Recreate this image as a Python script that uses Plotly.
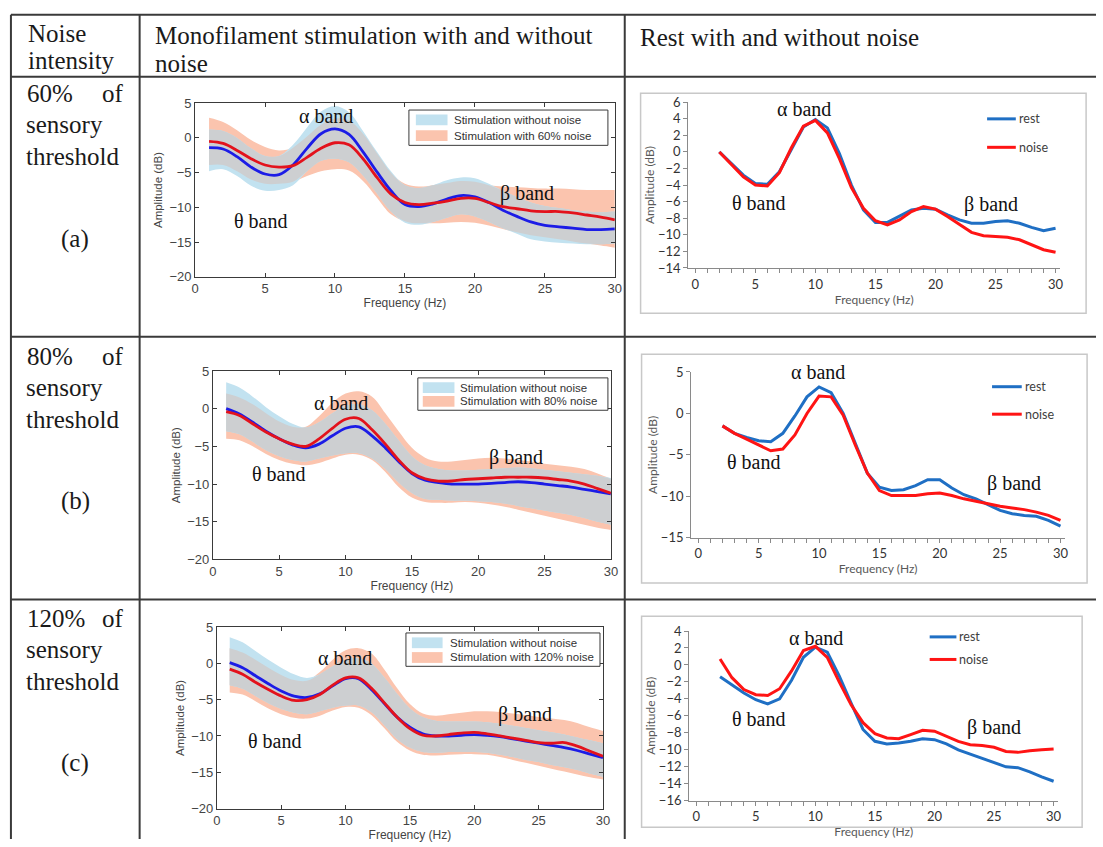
import plotly.graph_objects as go

W, H = 1103, 847

# ---------------- data ----------------
freq_stim = list(range(1, 31))
freq_rest = list(range(2, 31))

# (a) 60% of sensory threshold – monofilament stimulation
stim_a_without_mean = [-1.4, -1.6, -2.7, -4.2, -5.2, -5.3, -3.9, -1.5, 0.6, 1.3, 0.5, -2.0, -4.9, -7.6, -9.6,
                       -9.9, -9.5, -8.8, -8.3, -8.5, -9.3, -10.4, -11.3, -12.1, -12.6, -12.8, -13.0, -13.2, -13.2, -13.1]
stim_a_without_upper = [1.2, 1.0, 0.0, -1.5, -2.6, -2.6, -1.0, 1.5, 3.8, 4.6, 3.7, 1.0, -2.0, -4.8, -6.8,
                        -7.2, -6.8, -6.1, -5.7, -5.8, -6.6, -7.6, -8.5, -9.3, -9.8, -10.1, -10.4, -10.6, -10.7, -10.6]
stim_a_without_lower = [-4.8, -4.5, -5.5, -6.9, -7.6, -7.5, -6.8, -4.8, -3.3, -3.0, -3.5, -5.4, -8.0, -10.6, -12.2,
                        -12.5, -12.1, -11.5, -11.0, -11.3, -12.1, -13.0, -13.8, -14.6, -14.9, -15.1, -15.2, -15.3, -15.3, -15.2]
stim_a_noise_mean = [-0.5, -0.8, -1.8, -3.0, -3.9, -4.2, -4.0, -2.8, -1.5, -0.7, -1.0, -3.0, -5.7, -8.1, -9.3,
                     -9.6, -9.4, -9.1, -8.7, -8.7, -9.3, -9.9, -10.2, -10.5, -10.6, -10.6, -10.8, -11.1, -11.4, -11.8]
stim_a_noise_upper = [2.9, 2.3, 1.1, -0.3, -1.3, -1.8, -1.4, 0.2, 1.9, 2.8, 2.5, 0.6, -2.2, -5.0, -6.6,
                      -7.0, -6.8, -6.5, -6.2, -6.3, -6.8, -7.0, -7.1, -7.2, -7.3, -7.3, -7.4, -7.5, -7.5, -7.5]
stim_a_noise_lower = [-3.9, -3.9, -4.8, -6.0, -6.6, -6.6, -6.3, -5.5, -4.8, -4.5, -4.7, -6.2, -8.6, -11.0, -12.0,
                      -12.3, -12.3, -12.2, -12.1, -12.2, -12.6, -13.1, -13.6, -14.0, -14.3, -14.6, -14.9, -15.2, -15.5, -15.8]

# (b) 80% of sensory threshold
stim_b_without_mean = [0.0, -0.7, -1.8, -3.0, -4.0, -4.8, -5.2, -4.7, -3.6, -2.6, -2.4, -3.6, -5.2, -7.0, -8.6,
                       -9.5, -9.8, -10.0, -10.0, -10.0, -9.9, -9.8, -9.7, -9.8, -10.0, -10.2, -10.4, -10.7, -11.0, -11.3]
stim_b_without_upper = [3.5, 2.8, 1.6, 0.2, -1.0, -2.0, -2.5, -1.8, -0.6, 0.4, 0.6, -0.2, -2.0, -4.2, -6.3,
                        -7.5, -8.0, -8.2, -8.2, -8.1, -8.0, -7.9, -7.8, -7.9, -8.1, -8.3, -8.5, -8.7, -8.9, -9.2]
stim_b_without_lower = [-3.0, -3.4, -4.4, -5.5, -6.3, -6.8, -7.0, -6.6, -6.2, -5.9, -5.9, -6.6, -8.0, -9.8, -11.2,
                        -12.0, -12.1, -12.2, -12.2, -12.3, -12.4, -12.6, -12.9, -13.2, -13.5, -13.8, -14.1, -14.5, -15.0, -15.4]
stim_b_noise_mean = [-0.4, -0.9, -2.0, -3.1, -4.0, -4.7, -5.0, -4.0, -2.6, -1.4, -1.3, -2.8, -4.7, -6.8, -8.5,
                     -9.3, -9.6, -9.6, -9.4, -9.3, -9.2, -9.1, -9.1, -9.1, -9.2, -9.4, -9.6, -10.0, -10.6, -11.2]
stim_b_noise_upper = [2.0, 1.5, 0.6, -0.6, -1.7, -2.4, -2.4, -1.0, 0.8, 2.0, 2.3, 1.6, -0.6, -3.0, -5.2,
                      -6.5, -7.0, -7.0, -6.8, -6.6, -6.5, -6.6, -6.8, -7.0, -7.3, -7.5, -7.7, -8.0, -8.6, -9.3]
stim_b_noise_lower = [-4.0, -4.2, -5.0, -6.0, -6.8, -7.3, -7.5, -7.2, -6.6, -6.1, -6.1, -6.8, -8.4, -10.4, -11.8,
                      -12.4, -12.5, -12.5, -12.4, -12.5, -12.7, -13.0, -13.4, -13.8, -14.2, -14.6, -15.0, -15.4, -15.8, -16.1]

# (c) 120% of sensory threshold
stim_c_without_mean = [0.1, -0.6, -1.7, -2.8, -3.8, -4.5, -4.7, -4.2, -3.1, -2.1, -2.1, -3.6, -5.5, -7.4, -8.8,
                       -9.7, -10.0, -10.0, -9.9, -9.8, -9.9, -10.1, -10.4, -10.7, -11.0, -11.3, -11.6, -12.0, -12.5, -13.0]
stim_c_without_upper = [3.6, 2.9, 1.7, 0.5, -0.6, -1.5, -2.0, -1.5, -0.4, 0.5, 0.7, 0.0, -1.9, -4.2, -6.2,
                        -7.4, -7.9, -8.0, -8.0, -8.0, -8.1, -8.3, -8.6, -8.9, -9.2, -9.5, -9.8, -10.2, -10.6, -11.0]
stim_c_without_lower = [-3.0, -3.5, -4.5, -5.5, -6.3, -6.8, -7.0, -6.6, -6.1, -5.8, -5.8, -6.7, -8.5, -10.4, -11.6,
                        -12.2, -12.3, -12.2, -12.2, -12.2, -12.3, -12.6, -12.9, -13.3, -13.6, -14.0, -14.3, -14.7, -15.2, -15.6]
stim_c_noise_mean = [-0.8, -1.5, -2.6, -3.6, -4.5, -5.1, -5.0, -4.3, -3.0, -2.0, -2.0, -3.4, -5.4, -7.4, -9.0,
                     -9.9, -10.0, -9.8, -9.6, -9.5, -9.7, -10.0, -10.3, -10.6, -10.9, -11.0, -10.9, -11.4, -12.1, -12.8]
stim_c_noise_upper = [2.1, 1.5, 0.5, -0.6, -1.6, -2.3, -2.4, -1.2, 0.5, 1.8, 2.1, 1.4, -0.8, -3.4, -5.6,
                      -6.9, -7.2, -7.0, -6.8, -6.6, -6.6, -6.7, -6.9, -7.1, -7.4, -7.6, -7.8, -8.2, -8.8, -9.3]
stim_c_noise_lower = [-4.0, -4.3, -5.2, -6.2, -7.0, -7.5, -7.6, -7.2, -6.5, -6.0, -6.1, -7.1, -8.9, -10.8, -12.0,
                      -12.6, -12.7, -12.6, -12.5, -12.5, -12.6, -12.9, -13.3, -13.7, -14.1, -14.5, -14.9, -15.3, -15.7, -16.0]

# Rest with and without noise
rest_a_rest = [0.0, -1.4, -2.8, -3.8, -3.9, -2.4, 0.3, 3.0, 3.9, 2.9, -0.2, -4.0, -7.0, -8.5, -8.5,
               -7.7, -7.0, -6.8, -6.9, -7.6, -8.2, -8.6, -8.6, -8.4, -8.3, -8.6, -9.1, -9.5, -9.2]
rest_a_noise = [0.0, -1.5, -3.0, -4.0, -4.1, -2.5, 0.5, 3.1, 3.8, 2.3, -0.8, -4.3, -6.8, -8.3, -8.8,
                -8.2, -7.2, -6.6, -6.9, -7.8, -8.8, -9.7, -10.1, -10.2, -10.3, -10.6, -11.2, -11.8, -12.1]
rest_b_rest = [-1.5, -2.4, -2.9, -3.3, -3.4, -2.4, -0.3, 2.0, 3.2, 2.5, 0.0, -3.7, -7.2, -8.9, -9.3,
               -9.2, -8.7, -8.0, -8.0, -9.0, -9.8, -10.3, -11.0, -11.7, -12.1, -12.3, -12.4, -12.9, -13.6]
rest_b_noise = [-1.5, -2.4, -3.1, -3.8, -4.5, -4.3, -2.6, 0.0, 2.1, 2.0, -0.2, -3.8, -7.2, -9.3, -9.9,
                -9.9, -9.9, -9.7, -9.6, -9.9, -10.3, -10.6, -10.9, -11.2, -11.4, -11.6, -11.9, -12.3, -12.9]
rest_c_rest = [-1.4, -2.4, -3.3, -4.1, -4.6, -4.0, -1.8, 0.9, 2.1, 1.5, -1.3, -4.5, -7.6, -9.0, -9.3,
               -9.2, -9.0, -8.7, -8.8, -9.3, -10.0, -10.5, -11.0, -11.5, -12.0, -12.1, -12.6, -13.2, -13.7]
rest_c_noise = [0.7, -1.5, -2.9, -3.5, -3.6, -2.8, -0.7, 1.7, 2.2, 0.9, -2.0, -4.7, -6.8, -8.1, -8.6,
                -8.7, -8.2, -7.7, -7.8, -8.4, -9.0, -9.4, -9.5, -9.7, -10.2, -10.3, -10.1, -10.0, -9.9]

stim_legend_labels = [["Stimulation without noise", "Stimulation with 60% noise"],
                      ["Stimulation without noise", "Stimulation with 80% noise"],
                      ["Stimulation without noise", "Stimulation with 120% noise"]]
rest_legend_labels = ["rest", "noise"]
row_labels = [("60%", "(a)"), ("80%", "(b)"), ("120%", "(c)")]
band_labels = ["\u03b1 band", "\u03b8 band", "\u03b2 band"]

# ---------------- style ----------------
SALMON = "#fbc4ae"
LIGHTBLUE = "#c2e2f0"
GRAY = "#cdcfd1"
MEAN_BLUE = "#1c1ce6"
MEAN_RED = "#e3121c"
REST_BLUE = "#1f6fc4"
REST_RED = "#ff1414"
SERIF = "'Liberation Serif', 'Times New Roman', 'DejaVu Serif', serif"
SANS = "'Liberation Sans', Arial, sans-serif"
XLFONT = "Lato, 'Liberation Sans', sans-serif"


def px(x):
    return x / W


def py(y):
    return 1 - y / H


fig = go.Figure()
shapes = []
annotations = []
layout_axes = {}


def text(x, y, s, size=25, family=SERIF, color="#1a1a1a", xanchor="left", yanchor="middle"):
    annotations.append(dict(x=px(x), y=py(y), xref="paper", yref="paper", text=s, showarrow=False,
                            xanchor=xanchor, yanchor=yanchor,
                            font=dict(family=family, size=size, color=color)))


def add_axes(i, xdom, ydom, xrange, yrange, xdtick, ydtick, style):
    xd = [px(xdom[0]), px(xdom[1])]
    yd = [py(ydom[1]), py(ydom[0])]
    if style == "matlab":
        common = dict(showline=True, linecolor="#3a3a3a", linewidth=1, mirror="ticks", ticks="inside",
                      ticklen=4, tickcolor="#3a3a3a", showgrid=False, zeroline=False,
                      tickfont=dict(family=SANS, size=13, color="#444444"))
        xa = dict(domain=xd, range=xrange, dtick=xdtick, tick0=0, anchor=f"y{i}",
                  title=dict(text="Frequency (Hz)", font=dict(family=SANS, size=12, color="#444444"), standoff=2),
                  **common)
        ya = dict(domain=yd, range=yrange, dtick=ydtick, tick0=0, anchor=f"x{i}",
                  title=dict(text="Amplitude (dB)", font=dict(family=SANS, size=11.5, color="#444444"), standoff=4),
                  **common)
    else:
        common = dict(showline=True, linecolor="#8a8a8a", linewidth=1, ticks="outside", ticklen=4,
                      tickcolor="#8a8a8a", showgrid=False, zeroline=False,
                      tickfont=dict(family=XLFONT, size=13, color="#333333"))
        xa = dict(domain=xd, range=xrange, dtick=xdtick, tick0=0, anchor=f"y{i}",
                  minor=dict(dtick=1, ticks="outside", ticklen=4, tickcolor="#8a8a8a"),
                  title=dict(text="Frequency (Hz)", font=dict(family=XLFONT, size=12, color="#595959"), standoff=4),
                  **common)
        ya = dict(domain=yd, range=yrange, dtick=ydtick, tick0=0, anchor=f"x{i}",
                  title=dict(text="Amplitude (dB)", font=dict(family=XLFONT, size=12, color="#595959"), standoff=0),
                  **common)
    key = "" if i == 1 else str(i)
    layout_axes["xaxis" + key] = xa
    layout_axes["yaxis" + key] = ya


def band(i, lo, up, color):
    fig.add_trace(go.Scatter(x=freq_stim, y=lo, mode="lines", line=dict(width=0, shape="spline"),
                             xaxis=f"x{i}", yaxis=f"y{i}", showlegend=False, hoverinfo="skip"))
    fig.add_trace(go.Scatter(x=freq_stim, y=up, mode="lines", line=dict(width=0, shape="spline"),
                             fill="tonexty", fillcolor=color, xaxis=f"x{i}", yaxis=f"y{i}",
                             showlegend=False, hoverinfo="skip"))


def stim_panel(i, wm, wu, wl, nm, nu, nl):
    ou = [min(a, b) for a, b in zip(wu, nu)]
    ol = [max(a, b) for a, b in zip(wl, nl)]
    band(i, nl, nu, SALMON)
    band(i, wl, wu, LIGHTBLUE)
    band(i, ol, ou, GRAY)
    fig.add_trace(go.Scatter(x=freq_stim, y=wm, mode="lines", line=dict(width=2.8, color=MEAN_BLUE, shape="spline"),
                             xaxis=f"x{i}", yaxis=f"y{i}", showlegend=False))
    fig.add_trace(go.Scatter(x=freq_stim, y=nm, mode="lines", line=dict(width=2.8, color=MEAN_RED, shape="spline"),
                             xaxis=f"x{i}", yaxis=f"y{i}", showlegend=False))


def rest_panel(i, r, n):
    fig.add_trace(go.Scatter(x=freq_rest, y=r, mode="lines", line=dict(width=3, color=REST_BLUE),
                             xaxis=f"x{i}", yaxis=f"y{i}", showlegend=False))
    fig.add_trace(go.Scatter(x=freq_rest, y=n, mode="lines", line=dict(width=3, color=REST_RED),
                             xaxis=f"x{i}", yaxis=f"y{i}", showlegend=False))


# ---------------- panels ----------------
stim_data = [
    (stim_a_without_mean, stim_a_without_upper, stim_a_without_lower, stim_a_noise_mean, stim_a_noise_upper, stim_a_noise_lower),
    (stim_b_without_mean, stim_b_without_upper, stim_b_without_lower, stim_b_noise_mean, stim_b_noise_upper, stim_b_noise_lower),
    (stim_c_without_mean, stim_c_without_upper, stim_c_without_lower, stim_c_noise_mean, stim_c_noise_upper, stim_c_noise_lower),
]
stim_boxes = [((193, 617), (97, 274)), ((211, 613), (370, 562)), ((215, 605), (631, 816))]
for k, (d, (xb, yb)) in enumerate(zip(stim_data, stim_boxes)):
    i = k + 1
    add_axes(i, xb, yb, [0, 30], [-20, 5], 5, 5, "matlab")
    stim_panel(i, *d)

rest_data = [(rest_a_rest, rest_a_noise, [-14, 6], 2),
             (rest_b_rest, rest_b_noise, [-15, 5], 5),
             (rest_c_rest, rest_c_noise, [-16, 4], 2)]
rest_boxes = [((691, 1067), (96, 265)), ((694, 1072), (371, 540)), ((692, 1065), (635, 808))]
for k, ((r, n, yr, yd), (xb, yb)) in enumerate(zip(rest_data, rest_boxes)):
    i = k + 4
    add_axes(i, xb, yb, [-0.6, 30.4], yr, 5, yd, "excel")
    rest_panel(i, r, n)

# ---------------- table ----------------
LINE = dict(color="#3a3a3a", width=2)
for yy in [7, 70, 335, 603]:
    shapes.append(dict(type="line", xref="paper", yref="paper", x0=px(7), x1=px(1103), y0=py(yy), y1=py(yy), line=LINE))
for xx in [7, 137, 627]:
    shapes.append(dict(type="line", xref="paper", yref="paper", x0=px(xx), x1=px(xx), y0=py(7), y1=py(847), line=LINE))

text(22, 26, "Noise")
text(22, 54, "intensity")
text(151, 28, "Monofilament stimulation with and without")
text(151, 57, "noise")
text(640, 30, "Rest with and without noise")

row_tops = [87, 355, 622]
for (pct, tag), top in zip(row_labels, row_tops):
    text(21, top, pct)
    text(123, top, "of", xanchor="right")
    text(20, top + 32, "sensory")
    text(20, top + 64, "threshold")
    text(72, top + 148, tag, xanchor="center")

# ---------------- stim legends ----------------
stim_leg = [dict(box=(409, 610, 104, 140), patch=(416, 448), rows=(114, 130), tx=453),
            dict(box=(418, 610, 377, 410), patch=(423, 455), rows=(387, 401), tx=459),
            dict(box=(406, 602, 637, 671), patch=(412, 443), rows=(647, 662), tx=448)]
for lg, labels in zip(stim_leg, stim_legend_labels):
    x0, x1, y0, y1 = lg["box"]
    shapes.append(dict(type="rect", xref="paper", yref="paper", x0=px(x0), x1=px(x1), y0=py(y0), y1=py(y1),
                       line=dict(color="#3a3a3a", width=1), fillcolor="white"))
    for col, yc, lab in zip([LIGHTBLUE, SALMON], lg["rows"], labels):
        shapes.append(dict(type="rect", xref="paper", yref="paper", x0=px(lg["patch"][0]), x1=px(lg["patch"][1]),
                           y0=py(yc + 5.5), y1=py(yc - 5.5), line=dict(width=0), fillcolor=col))
        text(lg["tx"], yc, lab, size=11.5, family=SANS, color="#333333")

# ---------------- rest chart frames and legends ----------------
frames = [(643, 1093, 87, 311), (644, 1094, 353, 586), (644, 1089, 620, 835)]
for x0, x1, y0, y1 in frames:
    shapes.append(dict(type="rect", xref="paper", yref="paper", x0=px(x0), x1=px(x1), y0=py(y0), y1=py(y1),
                       line=dict(color="#c8c8c8", width=1.5), layer="below"))
rest_leg = [dict(x=(993, 1022), rows=(113, 142)),
            dict(x=(998, 1028), rows=(386, 414)),
            dict(x=(935, 962), rows=(641, 664))]
for lg in rest_leg:
    for col, yc, lab in zip([REST_BLUE, REST_RED], lg["rows"], rest_legend_labels):
        shapes.append(dict(type="line", xref="paper", yref="paper", x0=px(lg["x"][0]), x1=px(lg["x"][1]),
                           y0=py(yc), y1=py(yc), line=dict(color=col, width=3)))
        text(lg["x"][1] + 1, yc, lab, size=12.5, family=XLFONT, color="#404040")

# ---------------- band labels ----------------
band_pos = [
    [(325, 110), (259, 217), (528, 189)],
    [(340, 403), (277, 475), (517, 458)],
    [(344, 663), (273, 747), (526, 720)],
    [(808, 103), (762, 199), (997, 200)],
    [(822, 371), (757, 463), (1020, 485)],
    [(820, 642), (762, 725), (1000, 733)],
]
for pos in band_pos:
    for lab, (x, y) in zip(band_labels, pos):
        text(x, y, lab, size=20, family=SERIF, color="#111111", xanchor="center")

fig.update_layout(
    width=W, height=H,
    margin=dict(l=0, r=0, t=0, b=0, pad=0),
    paper_bgcolor="white", plot_bgcolor="white",
    showlegend=False,
    font=dict(family=SERIF),
    shapes=shapes, annotations=annotations,
    **layout_axes,
)

fig.write_html("out.html", config={"displayModeBar": False},
               post_script="document.body.style.margin='0';")
